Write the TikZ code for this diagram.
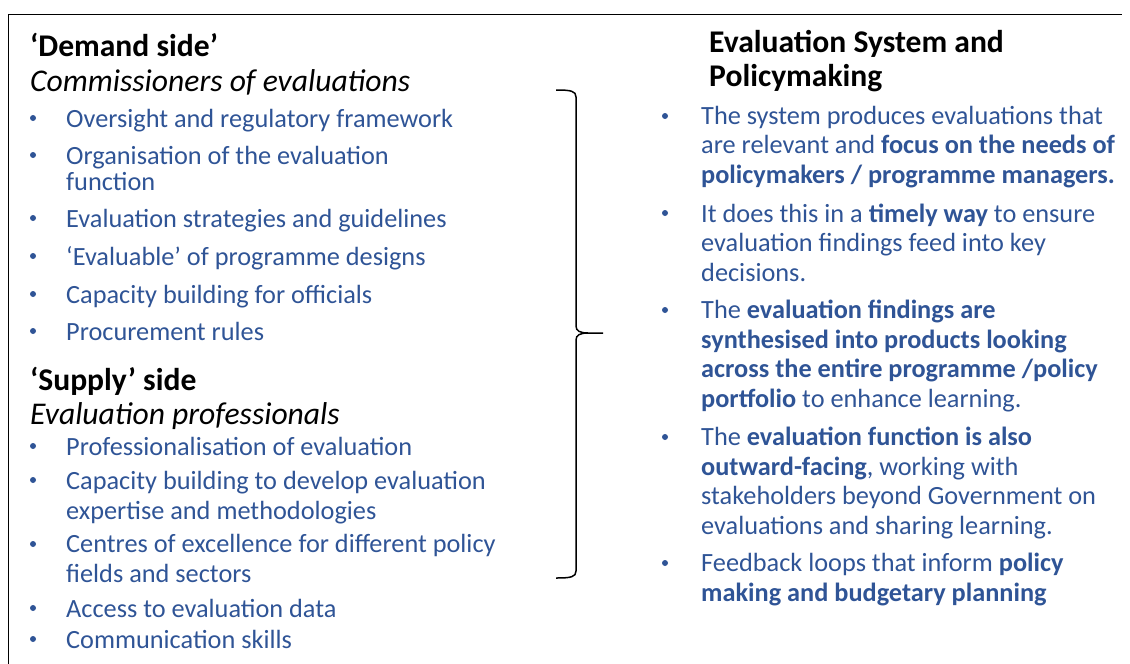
\documentclass[tikz,border=0pt]{standalone}
\usepackage{fontspec}
\setmainfont{Carlito}
\definecolor{txtblue}{RGB}{47,84,150}
\tikzset{
  head/.style={anchor=base west, inner sep=0pt, align=left, font=\fontsize{31.6}{34}\selectfont},
  item/.style={anchor=base west, inner sep=0pt, align=left, text=txtblue, font=\fontsize{26.3}{29.5}\selectfont},
  dot/.style={circle, fill=txtblue, inner sep=0pt, minimum size=6pt},
}
\begin{document}
\begin{tikzpicture}[x=1pt,y=-1pt]
            \useasboundingbox (0,0) rectangle (1130,664);
            \draw[line width=1pt] (8,664) -- (8,14) -- (1122,14);

            \node[head] (demand) at (30,56) {\textbf{‘Demand side’}};
            \node[head] (comm) at (30,91) {\textit{Commissioners of evaluations}};

            \node[dot] (d1) at (33,118) {};
            \node[item] (oversight) at (66,127) {Oversight and regulatory framework};
            \node[dot] (d2) at (33,155) {};
            \node[item] (organ) at (66,190) {Organisation of the evaluation\\[-3.5pt]function};
            \node[dot] (d3) at (33,218) {};
            \node[item] (strat) at (66,227) {Evaluation strategies and guidelines};
            \node[dot] (d4) at (33,256) {};
            \node[item] (evaluable) at (66,265) {‘Evaluable’ of programme designs};
            \node[dot] (d5) at (33,294) {};
            \node[item] (capofficials) at (66,303) {Capacity building for officials};
            \node[dot] (d6) at (33,331) {};
            \node[item] (procure) at (66,340) {Procurement rules};

            \node[head] (supply) at (30,390) {\textbf{‘Supply’ side}};
            \node[head] (prof) at (30,424) {\textit{Evaluation professionals}};

            \node[dot] (s1) at (33,446) {};
            \node[item] (professional) at (66,455) {Professionalisation of evaluation};
            \node[dot] (s2) at (33,480) {};
            \node[item] (capexpert) at (66,519) {Capacity building to develop evaluation\\expertise and methodologies};
            \node[dot] (s3) at (33,544) {};
            \node[item] (centres) at (66,582) {Centres of excellence for different policy\\fields and sectors};
            \node[dot] (s4) at (33,608) {};
            \node[item] (access) at (66,617) {Access to evaluation data};
            \node[dot] (s5) at (33,639) {};
            \node[item] (comms) at (66,648) {Communication skills};

            \draw[line width=1.5pt] (556,90) .. controls (571,90) and (576,91) .. (576,97) -- (576,326)
                .. controls (576,331) and (580,333) .. (588,333) -- (603,333);
            \draw[line width=1.5pt] (588,333) .. controls (580,333) and (576,335) .. (576,340) -- (576,571)
                .. controls (576,577) and (571,578) .. (556,578);

            \node[head] (system) at (709,86) {\textbf{Evaluation System and}\\\textbf{Policymaking}};

            \node[dot] (r1) at (665,116) {};
            \node[item] (needs) at (701,183) {The system produces evaluations that\\are relevant and \textbf{focus on the needs of}\\\textbf{policymakers / programme managers.}};
            \node[dot] (r2) at (665,213) {};
            \node[item] (timely) at (701,281) {It does this in a \textbf{timely way} to ensure\\evaluation findings feed into key\\decisions.};
            \node[dot] (r3) at (665,310) {};
            \node[item] (synth) at (701,407) {The \textbf{evaluation findings are}\\\textbf{synthesised into products looking}\\\textbf{across the entire programme /policy}\\\textbf{portfolio} to enhance learning.};
            \node[dot] (r4) at (665,437) {};
            \node[item] (outward) at (701,534) {The \textbf{evaluation function is also}\\\textbf{outward-facing}, working with\\stakeholders beyond Government on\\evaluations and sharing learning.};
            \node[dot] (r5) at (665,563) {};
            \node[item] (feedback) at (701,601) {Feedback loops that inform \textbf{policy}\\\textbf{making and budgetary planning}};
        \end{tikzpicture}
\end{document}
